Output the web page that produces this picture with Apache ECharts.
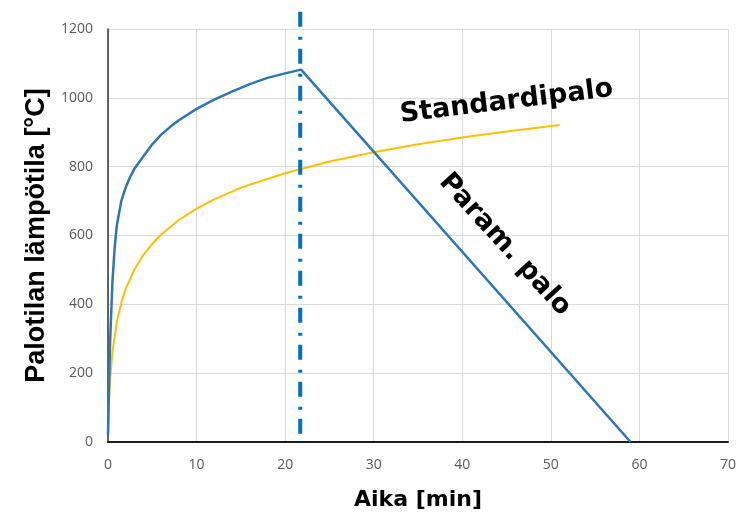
<!DOCTYPE html>
<html>
<head>
<meta charset="utf-8">
<script src="https://cdn.jsdelivr.net/npm/echarts@6/dist/echarts.min.js"></script>
<style>html,body{margin:0;padding:0;background:#fff}#c{width:740px;height:521px}</style>
</head>
<body>
<div id="c"></div>
<script>
// Parametric fire curve (time min, temperature °C)
var paramTime = [0, 0.1, 0.25, 0.5, 0.75, 1.0, 1.5, 2, 2.5, 3, 4, 5, 6, 7, 8, 10, 12, 14, 16, 18, 20, 21.8, 59];
var paramTemp = [20, 150, 300, 465, 565, 630, 700, 740, 770, 795, 830, 865, 893, 915, 935, 968, 995, 1018, 1040, 1058, 1071, 1082, 0];
// Standard fire curve
var stdTime = [0, 0.1, 0.25, 0.5, 1, 1.5, 2, 3, 4, 5, 6, 8, 10, 12, 15, 20, 25, 30, 35, 40, 45, 51];
var stdTemp = [20, 108, 185, 261, 349, 404, 445, 502, 544, 576, 603, 645, 678, 705, 739, 781, 815, 842, 865, 885, 902, 921];
// Vertical dash-dot marker (time of peak)
var markerTime = [21.7, 21.7];
var markerTemp = [1250, 0];
// Axis ticks
var xTicks = [0, 10, 20, 30, 40, 50, 60, 70];
var yTicks = [0, 200, 400, 600, 800, 1000, 1200];
// Annotations: text, anchor (time, temp), rotation in degrees
var annoText = ['Standardipalo', 'Param. palo'];
var annoTime = [45.0, 44.8];
var annoTemp = [988, 573];
var annoRot = [7, -47.7];

function zip(a, b) { return a.map(function (v, i) { return [v, b[i]]; }); }

var chart = echarts.init(document.getElementById('c'), null, { renderer: 'canvas' });
var option = {
  animation: false,
  backgroundColor: '#ffffff',
  grid: { left: 108, right: 12, top: 29, bottom: 79, containLabel: false },
  xAxis: {
    type: 'value', min: xTicks[0], max: xTicks[xTicks.length - 1], interval: 10,
    name: 'Aika [min]', nameLocation: 'middle', nameGap: 47,
    nameTextStyle: { fontFamily: 'DejaVu Sans', fontWeight: 'bold', fontSize: 22, color: '#000' },
    axisLine: { show: true, onZero: false, lineStyle: { color: '#1a1a1a', width: 2 } },
    axisTick: { show: false },
    axisLabel: { fontFamily: 'Open Sans', fontSize: 14, color: '#595959', margin: 16, formatter: function (v) { return String(v); } },
    splitLine: { show: true, lineStyle: { color: '#d9d9d9', width: 1 } }
  },
  yAxis: {
    type: 'value', min: yTicks[0], max: yTicks[yTicks.length - 1], interval: 200,
    name: 'Palotilan lämpötila [°C]', nameLocation: 'middle', nameGap: 58,
    nameTextStyle: { fontFamily: 'Liberation Sans', fontWeight: 'bold', fontSize: 27, color: '#000' },
    axisLine: { show: true, lineStyle: { color: '#333', width: 1.5 } },
    axisTick: { show: false },
    axisLabel: { fontFamily: 'Open Sans', fontSize: 14, color: '#595959', margin: 15, formatter: function (v) { return String(v); } },
    splitLine: { show: true, lineStyle: { color: '#d9d9d9', width: 1 } }
  },
  series: [
    {
      name: 'Standardipalo', type: 'line', data: zip(stdTime, stdTemp), showSymbol: false,
      lineStyle: { color: '#FFC000', width: 2 }, z: 3
    },
    {
      name: 'Param. palo', type: 'line', data: zip(paramTime, paramTemp), showSymbol: false,
      lineStyle: { color: '#2E75B6', width: 2.5 }, z: 4
    },
    {
      name: 'marker', type: 'line', data: zip(markerTime, markerTemp), showSymbol: false, clip: false,
      lineStyle: { color: '#0070C0', width: 4, type: [15, 10, 3, 9], cap: 'butt' }, z: 5
    }
  ]
};
chart.setOption(option);

var gr = annoText.map(function (t, i) {
  var p = chart.convertToPixel({ gridIndex: 0 }, [annoTime[i], annoTemp[i]]);
  return {
    type: 'text', x: p[0], y: p[1], rotation: annoRot[i] * Math.PI / 180, z: 10,
    style: { text: t, fontFamily: 'DejaVu Sans', fontWeight: 'bold', fontSize: 27, fill: '#000', align: 'center', verticalAlign: 'middle' }
  };
});
chart.setOption({ graphic: gr });
</script>
</body>
</html>
